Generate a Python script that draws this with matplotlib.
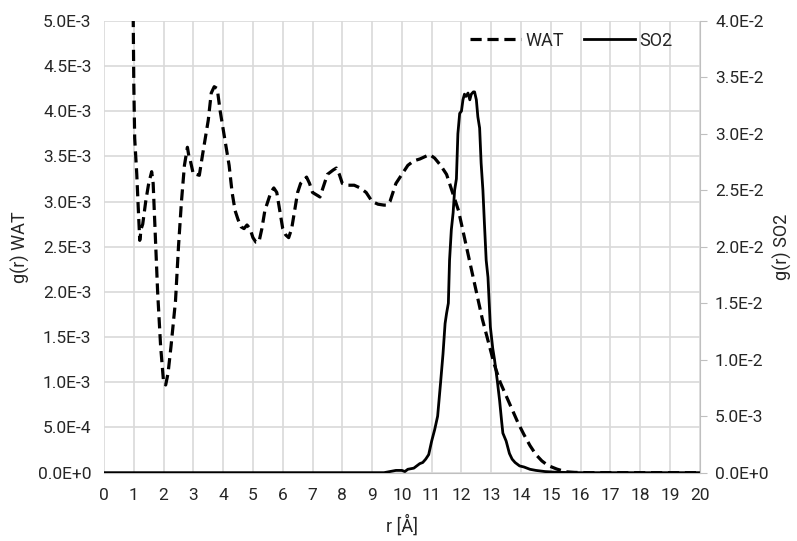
import matplotlib
matplotlib.use("Agg")
import matplotlib.pyplot as plt
from matplotlib.ticker import FuncFormatter, MultipleLocator

plt.rcParams['font.family'] = ['Roboto', 'DejaVu Sans']

# g(r) of water (left axis)
r_wat = [0.96, 1.0, 1.03, 1.1, 1.14, 1.2, 1.25, 1.3, 1.4, 1.5, 1.6, 1.65, 1.7, 1.8,
         1.9, 2.0, 2.07, 2.15, 2.25, 2.4, 2.5, 2.6, 2.7, 2.8, 2.85, 2.9, 3.0, 3.1, 3.2, 3.3,
         3.4, 3.5, 3.6, 3.7, 3.8, 3.9, 4.0, 4.1, 4.2, 4.3, 4.4, 4.5, 4.6, 4.7, 4.8, 4.9,
         5.0, 5.1, 5.2, 5.3, 5.4, 5.5, 5.6, 5.7, 5.8, 5.9, 6.0, 6.1, 6.2, 6.3, 6.4, 6.5,
         6.6, 6.8, 6.9, 7.0, 7.1, 7.25, 7.4, 7.5, 7.7, 7.8, 7.9, 8.0, 8.2, 8.4, 8.6, 8.8,
         9.0, 9.2, 9.4, 9.5, 9.6, 9.8, 10.0, 10.2, 10.4, 10.6, 10.8, 10.93, 11.1, 11.3, 11.5,
         11.7, 11.9, 12.1, 12.3, 12.5, 12.7, 12.9, 13.1, 13.3, 13.5, 13.7, 13.9, 14.1, 14.3,
         14.5, 14.7, 14.9, 15.2, 15.5, 15.8, 16.3, 20.0]
g_wat = [0.0058, 0.0043, 0.0037, 0.0033, 0.0030, 0.00257, 0.0027, 0.00275, 0.0030,
         0.0032, 0.00333, 0.0032, 0.0028, 0.0020, 0.0014, 0.0010, 0.00097, 0.0011, 0.0014,
         0.0019, 0.0025, 0.0030, 0.0034, 0.0036, 0.0035, 0.00345, 0.0033, 0.0033, 0.00329,
         0.0035, 0.0037, 0.0039, 0.0042, 0.00427, 0.00425, 0.0040, 0.0038, 0.0036, 0.0034,
         0.0031, 0.0029, 0.0028, 0.00272, 0.0027, 0.00274, 0.0027, 0.0026, 0.00255, 0.00255,
         0.0027, 0.0029, 0.0030, 0.0031, 0.00315, 0.0031, 0.0029, 0.0027, 0.00263, 0.0026,
         0.0027, 0.0029, 0.0031, 0.0032, 0.00327, 0.0032, 0.0031, 0.00308, 0.00305, 0.0032,
         0.0033, 0.00335, 0.00337, 0.0033, 0.0032, 0.00318, 0.00318, 0.00315, 0.0031, 0.0030,
         0.00297, 0.00296, 0.00296, 0.0030, 0.0032, 0.0033, 0.0034, 0.00345, 0.00347, 0.0035,
         0.00352, 0.00348, 0.0034, 0.0033, 0.0031, 0.0029, 0.0026, 0.0023, 0.0020, 0.0017,
         0.00145, 0.0012, 0.0010, 0.00085, 0.0007, 0.00055, 0.00042, 0.0003, 0.0002, 0.00013,
         0.00008, 0.00004, 0.00001, 0.000003, 0.0, 0.0]

# g(r) of SO2 (right axis)
r_so2 = [0.0, 9.4, 9.6, 9.8, 10.0, 10.1, 10.2, 10.4, 10.5, 10.6, 10.7, 10.8, 10.9, 11.0, 11.1,
         11.2, 11.3, 11.38, 11.45, 11.5, 11.56, 11.6, 11.66, 11.72, 11.77, 11.8, 11.83, 11.88,
         11.94, 12.0, 12.05, 12.1, 12.15, 12.22, 12.28, 12.33, 12.4, 12.44, 12.5, 12.55, 12.61,
         12.66, 12.72, 12.77, 12.83, 12.89, 12.97, 13.05, 13.11, 13.2, 13.28, 13.35, 13.39,
         13.5, 13.61, 13.7, 13.8, 13.95, 14.1, 14.3, 14.5, 14.8, 15.1, 15.5, 16.0, 20.0]
g_so2 = [0.0, 0.0, 0.0001, 0.0002, 0.0002, 0.0001, 0.0003, 0.0004, 0.0006, 0.0008, 0.0009,
         0.0012, 0.0016, 0.0028, 0.0038, 0.0050, 0.0080, 0.0105, 0.0132, 0.0141, 0.0150, 0.0188,
         0.0215, 0.0230, 0.0250, 0.0255, 0.0260, 0.0300, 0.0318, 0.0320, 0.0330, 0.0335, 0.0333,
         0.0336, 0.0330, 0.0335, 0.0337, 0.0337, 0.0330, 0.0315, 0.0305, 0.0274, 0.0250, 0.0221,
         0.0188, 0.0173, 0.0129, 0.0110, 0.0100, 0.0082, 0.0064, 0.0045, 0.0035, 0.0028, 0.0017,
         0.0012, 0.0009, 0.0006, 0.0005, 0.0003, 0.0002, 0.0001, 0.00005, 0.00002, 0.0, 0.0]


def sci(v, pos):
    if v == 0:
        return "0.0E+0"
    s = "%.1E" % v
    m, e = s.split("E")
    return m + "E" + str(int(e)) if int(e) < 0 else m + "E+" + str(int(e))


grid_c = '#d9d9d9'
txt_c = '#262626'

fig = plt.figure(figsize=(7.97, 5.41), dpi=100)
ax = fig.add_axes([0.1305, 0.1263, 0.7475, 0.8354])
ax2 = ax.twinx()

l1, = ax.plot(r_wat, g_wat, color='black', lw=2.3, ls=(0, (3.5, 1.8)), label='WAT')
l2, = ax2.plot(r_so2, g_so2, color='black', lw=2.0, label='SO2')

ax.set_xlim(0, 20)
ax.set_ylim(0, 5e-3)
ax2.set_ylim(0, 4e-2)
ax.xaxis.set_major_locator(MultipleLocator(1))
ax.yaxis.set_major_locator(MultipleLocator(5e-4))
ax2.yaxis.set_major_locator(MultipleLocator(5e-3))
ax.yaxis.set_major_formatter(FuncFormatter(sci))
ax2.yaxis.set_major_formatter(FuncFormatter(sci))

ax.grid(True, color=grid_c, lw=1.2)
ax.set_axisbelow(True)
for a in (ax, ax2):
    for s in a.spines.values():
        s.set_visible(False)
ax.spines['bottom'].set_visible(True)
ax.spines['bottom'].set_color('#bfbfbf')
ax2.spines['right'].set_visible(True)
ax2.spines['right'].set_color('#bfbfbf')

ax.tick_params(axis='both', length=0, labelsize=12.5, colors=txt_c, pad=11)
ax.tick_params(axis='y', pad=9)
ax2.tick_params(axis='y', length=5, color='#bfbfbf', labelsize=12.5, labelcolor=txt_c, pad=6)

ax.set_xlabel('r [Å]', fontsize=13, color=txt_c, labelpad=8)
ax.set_ylabel('g(r) WAT', fontsize=13, color=txt_c, labelpad=6)
ax2.set_ylabel('g(r) SO2', fontsize=13, color=txt_c, labelpad=3)

ax2.legend(handles=[l1, l2], loc='upper right', bbox_to_anchor=(0.973, 1.0), ncol=2,
           frameon=False, fontsize=13, handlelength=2.8, columnspacing=1.1,
           handletextpad=0.28, borderaxespad=0.2, labelcolor=txt_c)

fig.savefig('out.png', dpi=100)
